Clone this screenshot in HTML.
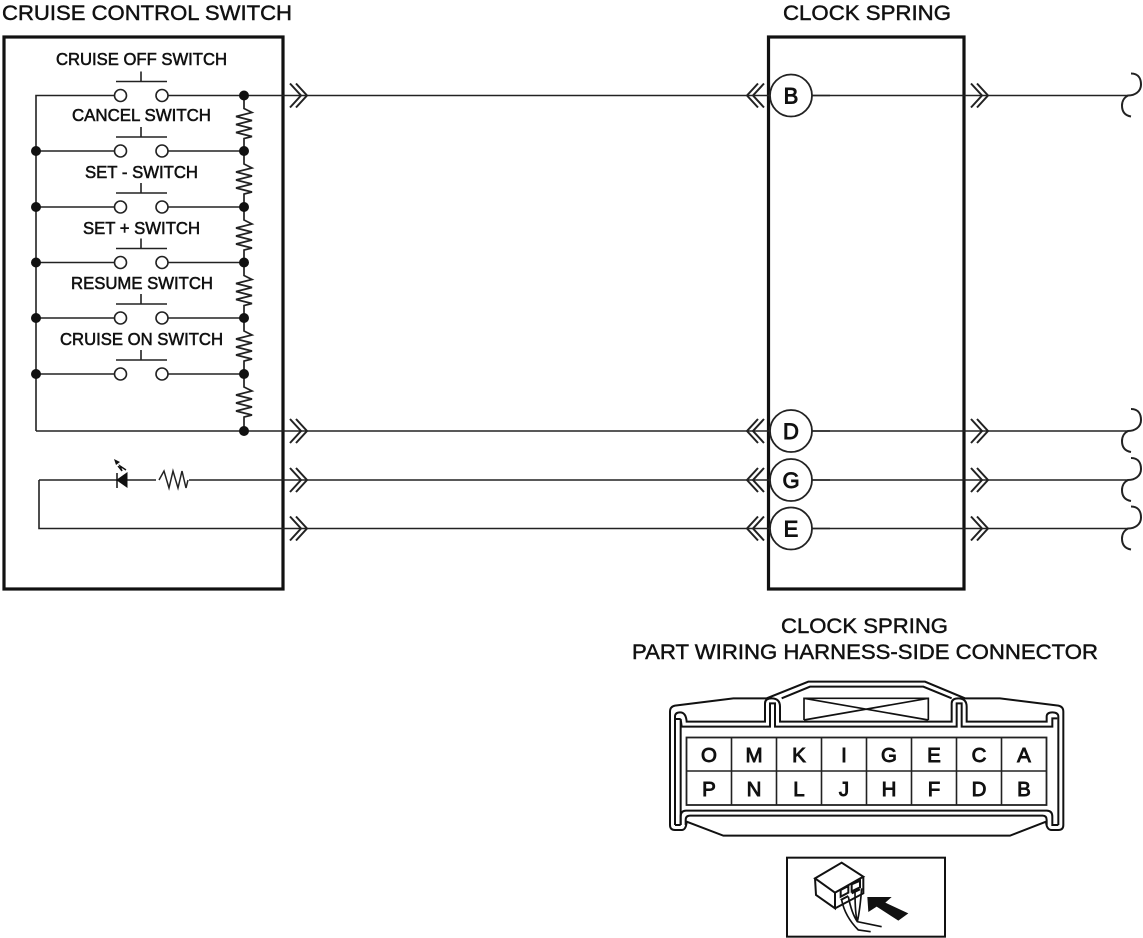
<!DOCTYPE html>
<html><head><meta charset="utf-8">
<style>
html,body{margin:0;padding:0;background:#fff;width:1143px;height:938px;overflow:hidden}
svg{display:block}
text{font-family:"Liberation Sans",sans-serif;fill:#111;stroke:#111;stroke-width:.55}
.l{font-size:17.500px}
.t{font-size:21px;stroke-width:.45}
.c{font-size:22px;text-anchor:middle;stroke-width:.9}
.k{font-size:20.500px;text-anchor:middle;stroke-width:.9}
</style></head><body>
<svg width="1143" height="938" viewBox="0 0 1143 938" xmlns="http://www.w3.org/2000/svg">
<defs>
<g id="sw" fill="#fff" stroke="#222" stroke-width="1.600">
<path d="M116 -14H167M141 -24V-14" fill="none"/>
<circle cx="120.500" cy="0" r="6"/><circle cx="162" cy="0" r="6"/>
</g>
<path id="res" d="M0 0V13L8 17L-8 21L8 25L-8 29L8 33L-8 37L8 41L0 43V56" fill="none" stroke="#222" stroke-width="1.700"/>
<path id="ar" d="M0 -12L11 0L0 12M6 -12L17 0L6 12" fill="none" stroke="#222" stroke-width="2"/>
<path id="al" d="M0 -12L-11 0L0 12M-6 -12L-17 0L-6 12" fill="none" stroke="#222" stroke-width="2"/>
<path id="br" d="M0 -22C8 -22 10 -16 10 -11C10 -4 4 0 -3 0C-7 2 -9 6 -9 10C-9 16 -6 20 0 21" fill="none" stroke="#222" stroke-width="2"/>
</defs>

<rect x="4" y="37" width="279" height="552" fill="none" stroke="#111" stroke-width="3.200"/>
<rect x="768.500" y="37" width="195.500" height="552" fill="none" stroke="#111" stroke-width="3.200"/>

<text class="t" x="2" y="20" textLength="290" lengthAdjust="spacingAndGlyphs">CRUISE CONTROL SWITCH</text>
<text class="t" x="783" y="20" textLength="168" lengthAdjust="spacingAndGlyphs">CLOCK SPRING</text>
<text class="l" x="56" y="65" textLength="171" lengthAdjust="spacingAndGlyphs">CRUISE OFF SWITCH</text>
<text class="l" x="72" y="121" textLength="139" lengthAdjust="spacingAndGlyphs">CANCEL SWITCH</text>
<text class="l" x="85" y="178" textLength="113" lengthAdjust="spacingAndGlyphs">SET - SWITCH</text>
<text class="l" x="83" y="234" textLength="117" lengthAdjust="spacingAndGlyphs">SET + SWITCH</text>
<text class="l" x="71" y="289" textLength="142" lengthAdjust="spacingAndGlyphs">RESUME SWITCH</text>
<text class="l" x="60" y="345" textLength="163" lengthAdjust="spacingAndGlyphs">CRUISE ON SWITCH</text>

<g fill="none" stroke="#222" stroke-width="1.600">
<path d="M36 431V95.500H116M168 95.500H1128"/>
<path d="M36 151H116M168 151H244M36 207H116M168 207H244M36 262.500H116M168 262.500H244M36 318H116M168 318H244M36 374H116M168 374H244"/>
<path d="M36 431H1128"/>
<path d="M39 480H1128M39 480V528.500H1128"/>
</g>

<use href="#sw" x="0" y="95.500"/><use href="#sw" x="0" y="151"/><use href="#sw" x="0" y="207"/>
<use href="#sw" x="0" y="262.500"/><use href="#sw" x="0" y="318"/><use href="#sw" x="0" y="374"/>

<use href="#res" x="244" y="95.500"/><use href="#res" x="244" y="151"/><use href="#res" x="244" y="207"/>
<use href="#res" x="244" y="262.500"/><use href="#res" x="244" y="318"/><use href="#res" x="244" y="374"/>

<g fill="#111">
<circle cx="244" cy="95.500" r="5"/><circle cx="244" cy="151" r="5"/><circle cx="244" cy="207" r="5"/>
<circle cx="244" cy="262.500" r="5"/><circle cx="244" cy="318" r="5"/><circle cx="244" cy="374" r="5"/>
<circle cx="244" cy="431" r="5"/>
<circle cx="36" cy="151" r="5"/><circle cx="36" cy="207" r="5"/><circle cx="36" cy="262.500" r="5"/>
<circle cx="36" cy="318" r="5"/><circle cx="36" cy="374" r="5"/>
</g>

<!-- LED and resistor -->
<path d="M117 480L127 473V487Z" fill="#111" stroke="#111"/>
<path d="M117 473V488" stroke="#111" stroke-width="1.500"/>
<path d="M126 470L120 466L122 471L118 466" fill="none" stroke="#111" stroke-width="1.400"/>
<path d="M114 459L120 462L116 465Z" fill="#111"/>
<rect x="156" y="470" width="33" height="20" fill="#fff"/>
<path d="M159 480L164 471L169 488L173 471L178 488L182 471L186 488L188 480" fill="none" stroke="#222" stroke-width="1.500"/>

<!-- arrows -->
<use href="#ar" x="290" y="95.500"/><use href="#ar" x="290" y="431"/><use href="#ar" x="290" y="480"/><use href="#ar" x="290" y="528.500"/>
<use href="#al" x="764" y="95.500"/><use href="#al" x="764" y="431"/><use href="#al" x="764" y="480"/><use href="#al" x="764" y="528.500"/>
<use href="#ar" x="971" y="95.500"/><use href="#ar" x="971" y="431"/><use href="#ar" x="971" y="480"/><use href="#ar" x="971" y="528.500"/>
<use href="#br" x="1131" y="95.500"/><use href="#br" x="1131" y="431"/><use href="#br" x="1131" y="480"/><use href="#br" x="1131" y="528.500"/>

<g fill="#fff" stroke="#222" stroke-width="1.800">
<circle cx="791" cy="95.500" r="21"/><circle cx="791" cy="431" r="21"/><circle cx="791" cy="480" r="21"/><circle cx="791" cy="528.500" r="21"/>
</g>
<path d="M812 95.500H830M812 431H830M812 480H830M812 528.500H830" stroke="#222" stroke-width="1.600"/>
<text class="c" x="791" y="103.500">B</text>
<text class="c" x="791" y="439">D</text>
<text class="c" x="791" y="488">G</text>
<text class="c" x="791" y="536.500">E</text>

<text class="t" x="781" y="633" textLength="167" lengthAdjust="spacingAndGlyphs">CLOCK SPRING</text>
<text class="t" x="632" y="659" textLength="466" lengthAdjust="spacingAndGlyphs">PART WIRING HARNESS-SIDE CONNECTOR</text>

<!-- connector -->
<g transform="translate(650 670) scale(.33333)" fill="none" stroke="#111" stroke-width="6">
<path d="M60 125Q60 110 75 107L250 85H350L475 35H825L945 85H1050L1225 107Q1240 110 1240 125V465Q1240 480 1225 480H1205Q1190 480 1188 455L1080 497H220L110 455Q108 480 95 480H75Q60 480 60 465Z"/>
<path d="M75 465V140Q75 127 90 127Q108 127 110 155H345V100Q345 85 365 85Q390 85 390 110V155H905V100Q905 85 925 85Q950 85 950 110V155H1190V140Q1190 127 1207 127Q1225 127 1225 140V465"/>
<path d="M92 465V147H92L95 170H360V100H375V170H920V100H935V170H1207V145H1222M92 147H78"/>
<path d="M395 85L480 50H820L905 85"/>
<path d="M92 465V440Q92 422 108 422H1190Q1207 422 1207 440V465H1225"/>
<path d="M75 465H92M107 465V450Q107 437 120 437H1178Q1190 437 1190 450V465"/>
<path d="M462 150V85H835V150M462 85L835 150M835 85L462 150" stroke-width="5"/>
</g>
<g fill="#fff" stroke="#222" stroke-width="1.800">
<rect x="686.500" y="737.500" width="360" height="67.500"/>
</g>
<path d="M686.500 771H1046.500M731.500 737.500V805M776.500 737.500V805M821.500 737.500V805M866.500 737.500V805M911.500 737.500V805M956.500 737.500V805M1001.500 737.500V805" stroke="#222" stroke-width="1.600" fill="none"/>
<text class="k" x="709" y="762">O</text><text class="k" x="754" y="762">M</text><text class="k" x="799" y="762">K</text><text class="k" x="844" y="762">I</text>
<text class="k" x="889" y="762">G</text><text class="k" x="934" y="762">E</text><text class="k" x="979" y="762">C</text><text class="k" x="1024" y="762">A</text>
<text class="k" x="709" y="796">P</text><text class="k" x="754" y="796">N</text><text class="k" x="799" y="796">L</text><text class="k" x="844" y="796">J</text>
<text class="k" x="889" y="796">H</text><text class="k" x="934" y="796">F</text><text class="k" x="979" y="796">D</text><text class="k" x="1024" y="796">B</text>

<!-- icon -->
<g transform="translate(780 850) scale(.33333)" fill="none" stroke="#111" stroke-width="6">
<rect x="21" y="23" width="474" height="237" stroke-width="6"/>
<path d="M105 85L185 38L250 80L165 128ZM105 85L108 135L165 175V128M250 80V130L165 175"/>
<path d="M182 120L205 108V128L182 140ZM215 103L240 92V112L215 124Z M182 150L205 138M215 130L240 118" stroke-width="6"/>
<path d="M185 150Q195 200 235 240L272 245M205 140Q215 190 232 215L305 230M225 125Q225 190 232 215M245 115Q240 180 232 215" stroke-width="5"/>
<path d="M262 141H335L316 158L385 190L355 212L290 170L265 186Z" fill="#111" stroke="none"/>
</g>
</svg>
</body></html>
